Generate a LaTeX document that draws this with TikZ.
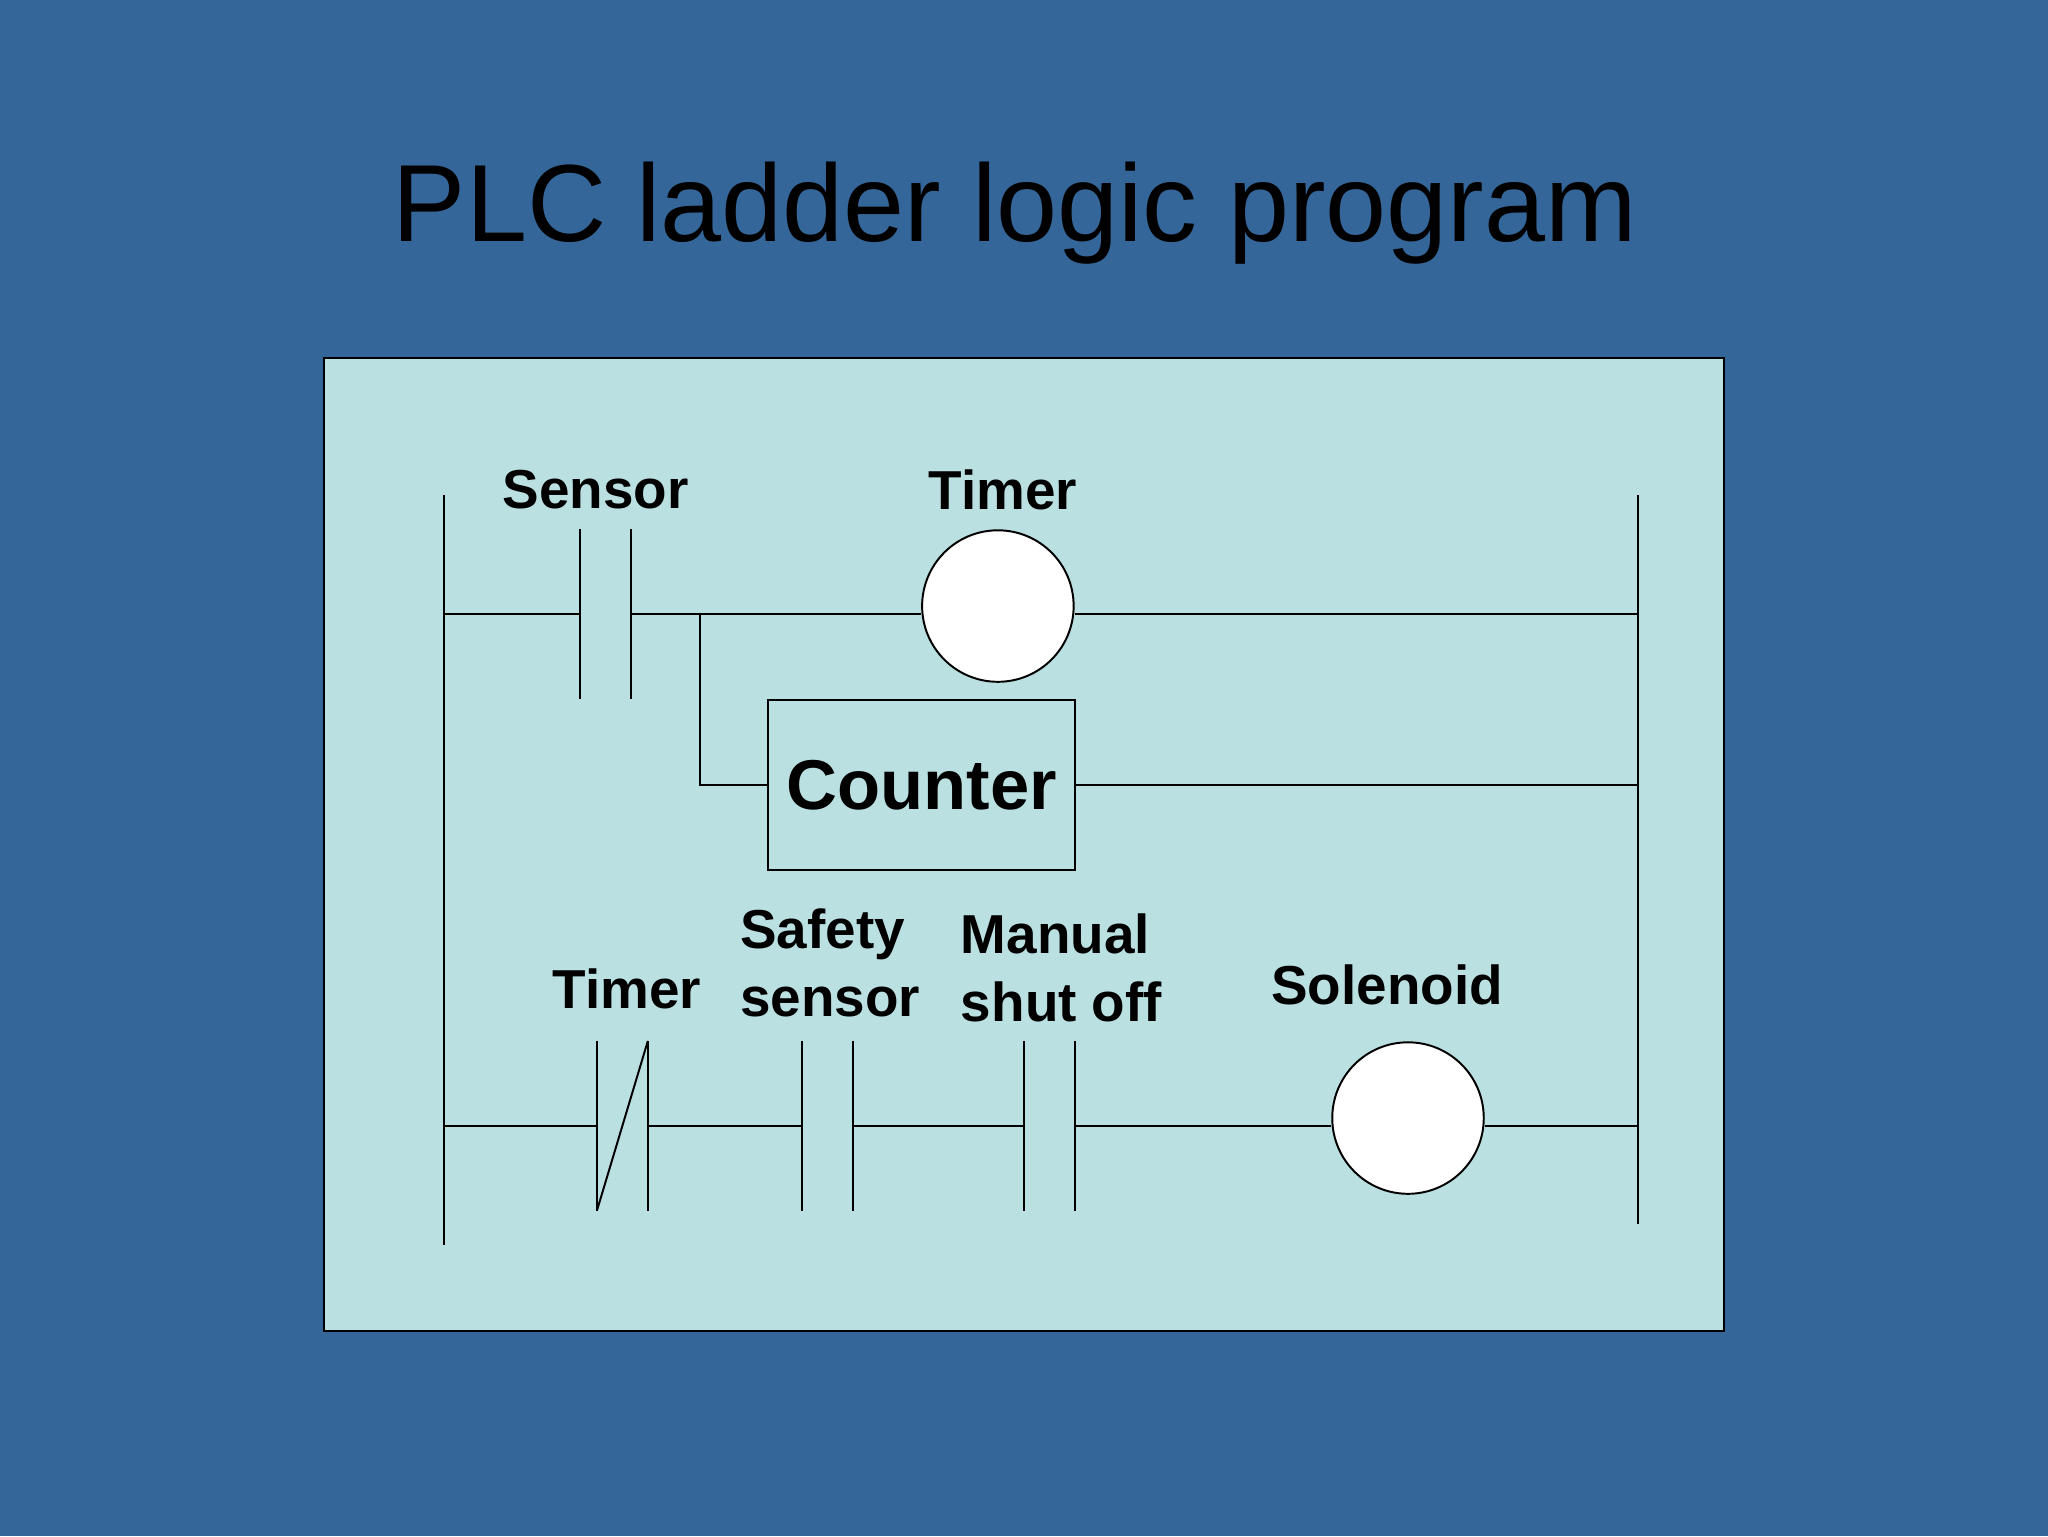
\documentclass[tikz,border=0pt]{standalone}
\usepackage{fontspec}
\setmainfont{Liberation Sans}
\definecolor{bgblue}{HTML}{346699}
\definecolor{panel}{HTML}{BAE0E2}
\begin{document}
\begin{tikzpicture}[x=1pt,y=-1pt,line width=1.5pt,
  lbl/.style={font=\fontsize{42}{50}\selectfont\bfseries,inner sep=0pt},
  coil/.style={circle,draw,fill=white,minimum size=116pt,inner sep=0pt}]
\fill[bgblue] (0,0) rectangle (1568,1176);
\useasboundingbox (0,0) rectangle (1568,1176);
\node[font=\fontsize{84}{90}\selectfont] (title) at (777,163) {PLC ladder logic program};
\draw[fill=panel] (248,274) rectangle (1320,1019);
% rails
\coordinate (lt) at (340,379); \coordinate (lb) at (340,953);
\coordinate (rt) at (1254,379); \coordinate (rb) at (1254,937);
\draw (lt) -- (lb); \draw (rt) -- (rb);
% rung 1
\node[coil] (timer) at (764,464) {};
\node[draw,fill=panel,minimum width=235pt,minimum height=130pt,font=\fontsize{54}{60}\selectfont\bfseries] (counter) at (705.5,601) {Counter};
\draw (340,470) -- (444,470); \draw (444,405) -- (444,535); \draw (483,405) -- (483,535);
\draw (483,470) -- (timer.west|-0,470); \draw (timer.east|-0,470) -- (1254,470);
\draw (536,470) -- (536,601) -- (counter.west); \draw (counter.east) -- (1254,601);
\node[lbl] (l1) at (456,375) {Sensor};
\node[lbl] (l2) at (768,375) {Timer};
% rung 2
\node[coil] (sol) at (1078,856) {};
\draw (340,862) -- (457,862);
\draw (457,797) -- (457,927); \draw (496,797) -- (496,927); \draw (457,927) -- (496,797);
\draw (496,862) -- (614,862); \draw (614,797) -- (614,927); \draw (653,797) -- (653,927);
\draw (653,862) -- (784,862); \draw (784,797) -- (784,927); \draw (823,797) -- (823,927);
\draw (823,862) -- (sol.west|-0,862); \draw (sol.east|-0,862) -- (1254,862);
\node[lbl] (l3) at (480,757) {Timer};
\node[lbl,anchor=west] (l4a) at (566,715) {Safety};
\node[lbl,anchor=west] (l4b) at (566,767) {sensor};
\node[lbl,anchor=west] (l5a) at (735,715) {Manual};
\node[lbl,anchor=west] (l5b) at (735,767) {shut off};
\node[lbl] (l6) at (1062,754) {Solenoid};
\end{tikzpicture}
\end{document}
